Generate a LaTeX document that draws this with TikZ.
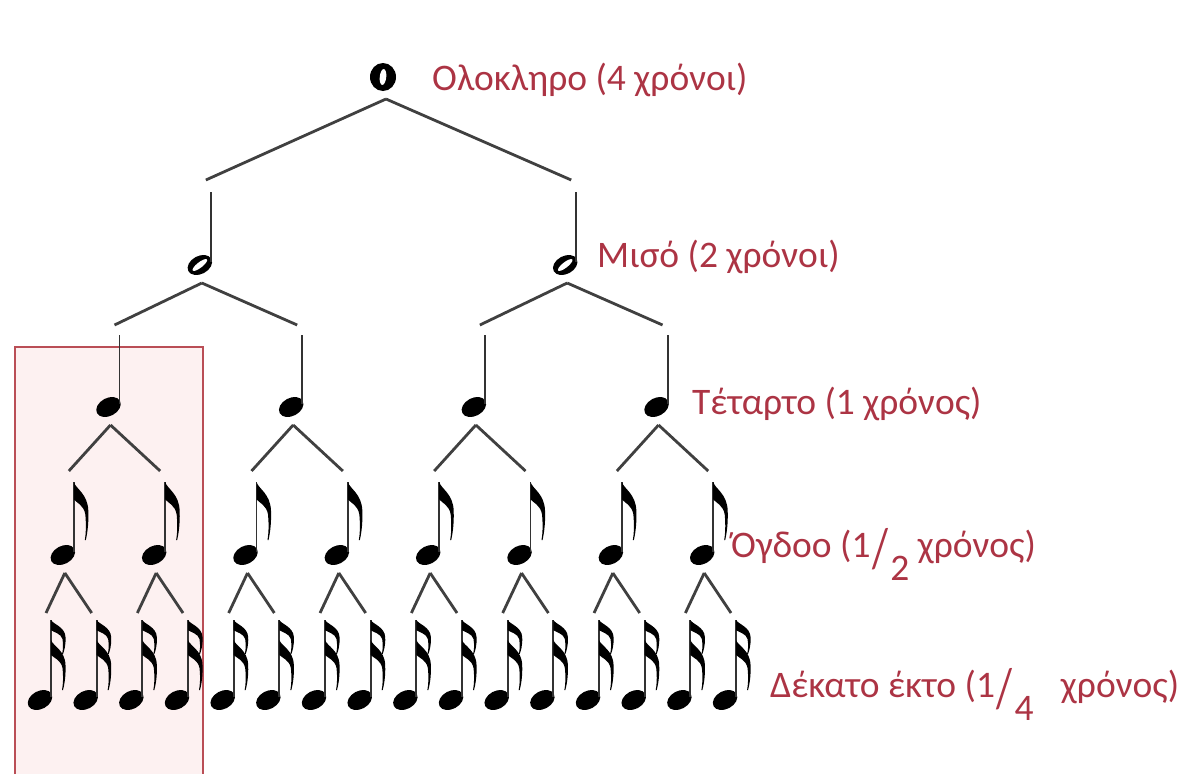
\documentclass[tikz,border=0pt]{standalone}
\usepackage{fontspec}
\setmainfont{Carlito}
\usetikzlibrary{calc}
\usetikzlibrary{shapes}

\definecolor{rdeca}{RGB}{172,52,68}
\definecolor{okvir}{RGB}{186,78,86}
\definecolor{roza}{RGB}{253,241,241}

\newcommand{\zastava}[1]{%
  \fill (0,0) .. controls (2,0.12*#1) and (14,0.2*#1) .. (14.5,0.5*#1)
    .. controls (15,0.75*#1) and (13,0.92*#1) .. (12,#1) -- (11,#1)
    .. controls (12,0.9*#1) and (12.5,0.75*#1) .. (11.5,0.56*#1)
    .. controls (10,0.4*#1) and (3,0.36*#1) .. (0,0.3*#1) -- cycle;}
\newcommand{\ulomek}[2]{#1\kern0.04em\raisebox{-0.28em}{\scalebox{1.1}[1.5]{/}}\kern0.06em\raisebox{-0.62em}{#2}}

\begin{document}
\begin{tikzpicture}[x=1pt,y=-1pt,
  glava/.style={ellipse,fill=black,inner sep=0pt,minimum width=26pt,minimum height=18pt,rotate=28},
  luknja/.style={ellipse,fill=white,inner sep=0pt,minimum width=18pt,minimum height=5.5pt,rotate=38},
  cela/.style={ellipse,fill=black,inner sep=0pt,minimum width=26pt,minimum height=28pt},
  celaluknja/.style={ellipse,fill=white,inner sep=0pt,minimum width=6.5pt,minimum height=16pt,rotate=-6},
  pecelj/.style={line width=1.9pt,black!80},
  veja/.style={line width=2.8pt,black!75},
  oznaka/.style={anchor=base west,inner sep=0pt,text=rdeca,font=\fontsize{37.5}{42}\selectfont}]
\useasboundingbox (0,0) rectangle (1180,774);
\def\glave{{77,265,407,555,700}}
\def\vrhovi{{0,192,335,482,620}}
\def\konci{{0,180,325,471,613}}

% okvir
\fill[roza] (15,347) rectangle (203,774);
\draw[okvir,line width=1.6pt] (15,774) |- (203,347) -- (203,774);

% note
\node[cela] (n_0_0) at (383,77) {};
\node[celaluknja] (l_0_0) at (n_0_0) {};
\coordinate (r_0_0) at ($(n_0_0)+(3,22)$);
\foreach \l in {1,...,4} {
  \pgfmathtruncatemacro{\m}{2^\l-1};
  \pgfmathtruncatemacro{\d}{2^(4-\l)};
  \pgfmathsetmacro{\y}{\glave[\l]};
  \pgfmathsetmacro{\v}{\vrhovi[\l]};
  \pgfmathsetmacro{\k}{\konci[\l]};
  \foreach \i in {0,...,\m} {
    \pgfmathsetmacro{\x}{40+45.67*(\d*\i+(\d-1)/2)};
    \node[glava] (n_\l_\i) at (\x,\y) {};
    \coordinate (r_\l_\i) at ($(n_\l_\i)+(2,18)$);
    \coordinate (k_\l_\i) at (\x+6,\k);
    \coordinate (s_\l_\i) at (\x+11,\v);
    \draw[pecelj] (s_\l_\i) -- ($(n_\l_\i)+(11,-3)$);
    \ifnum\l=1 \node[luknja] (l_1_\i) at (n_\l_\i) {}; \fi
    \ifnum\l=3
      \begin{scope}[shift={(s_\l_\i)}] \zastava{58} \end{scope}
    \fi
    \ifnum\l=4
      \begin{scope}[shift={(s_\l_\i)}] \zastava{34} \end{scope}
      \begin{scope}[shift={($(s_\l_\i)+(0,20)$)}] \zastava{50} \end{scope}
    \fi
  }
}

% veje
\foreach \l in {1,...,4} {
  \pgfmathtruncatemacro{\m}{2^\l-1};
  \pgfmathtruncatemacro{\p}{\l-1};
  \foreach \i in {0,...,\m} {
    \pgfmathtruncatemacro{\j}{floor(\i/2)};
    \draw[veja] (r_\p_\j) -- (k_\l_\i);
  }
}

% oznake
\node[oznaka] (t_0) at (432,90) {Ολοκληρο (4 χρόνοι)};
\node[oznaka] (t_1) at (597,267) {Μισό (2 χρόνοι)};
\node[oznaka] (t_2) at (692,414) {Τέταρτο (1 χρόνος)};
\node[oznaka] (t_3) at (731,557) {Όγδοο (\ulomek{1}{2} χρόνος)};
\node[oznaka] (t_4) at (770,697) {Δέκατο έκτο (\ulomek{1}{4}\hspace{0.5em} χρόνος)};
\end{tikzpicture}
\end{document}
